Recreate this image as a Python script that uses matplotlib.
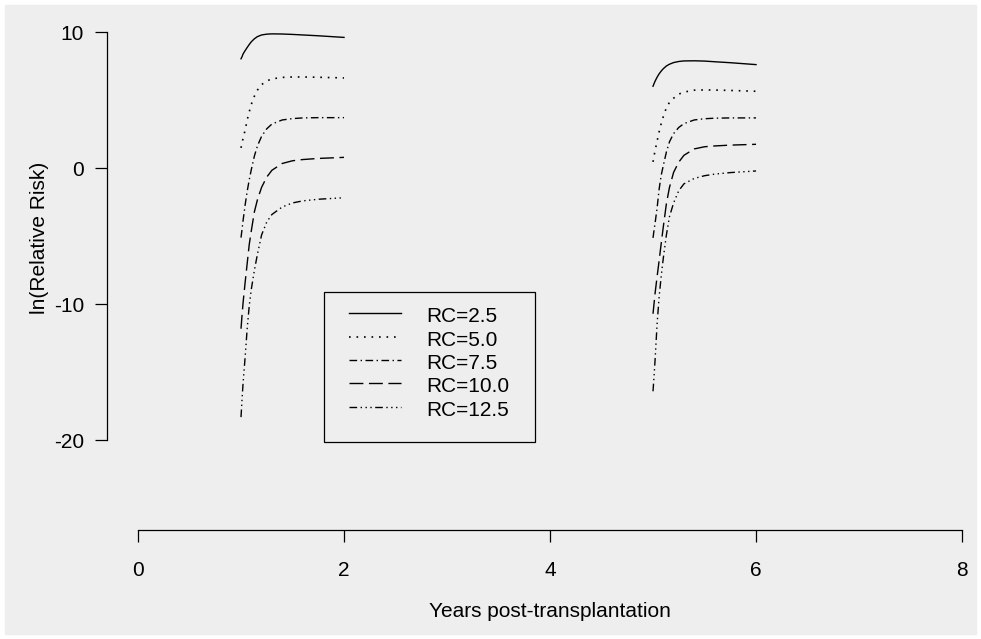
import matplotlib
matplotlib.use("Agg")
import matplotlib.pyplot as plt
from matplotlib.patches import Rectangle

plt.rcParams['font.family'] = ['Liberation Sans', 'DejaVu Sans']
plt.rcParams['font.size'] = 15
plt.rcParams['axes.unicode_minus'] = False

# time grids (years post-transplantation) for the two follow-up windows
early_years = [1.00, 1.01, 1.02, 1.04, 1.06, 1.08, 1.10, 1.13, 1.16, 1.20,
               1.25, 1.30, 1.40, 1.50, 1.60, 1.75, 2.00]
late_years = [5.00, 5.01, 5.02, 5.04, 5.06, 5.08, 5.10, 5.13, 5.16, 5.20,
              5.25, 5.30, 5.40, 5.50, 5.60, 5.75, 6.00]

# ln(relative risk) by RC level
rc25_early = [8.05, 8.2, 8.4, 8.65, 8.88, 9.1, 9.3, 9.52, 9.68, 9.8,
              9.86, 9.88, 9.87, 9.84, 9.80, 9.74, 9.62]
rc50_early = [1.5, 1.85, 2.2, 2.8, 3.55, 4.15, 4.7, 5.3, 5.75, 6.15,
              6.42, 6.57, 6.68, 6.71, 6.71, 6.69, 6.64]
rc75_early = [-5.1, -4.5, -3.85, -2.7, -1.7, -0.85, -0.1, 0.9, 1.65, 2.35,
              2.9, 3.25, 3.55, 3.65, 3.7, 3.72, 3.72]
rc100_early = [-11.8, -10.8, -9.9, -8.4, -7.0, -5.6, -4.6, -3.2, -2.3, -1.4,
               -0.65, -0.15, 0.35, 0.55, 0.64, 0.72, 0.8]
rc125_early = [-18.3, -17.0, -15.8, -13.9, -11.8, -10.1, -8.9, -7.5, -6.3, -4.9,
               -3.95, -3.4, -2.85, -2.55, -2.4, -2.28, -2.17]

rc25_late = [6.03, 6.22, 6.4, 6.7, 6.95, 7.15, 7.32, 7.52, 7.65, 7.77,
             7.85, 7.89, 7.9, 7.88, 7.83, 7.76, 7.62]
rc50_late = [0.47, 0.9, 1.3, 2.0, 2.7, 3.3, 3.8, 4.45, 4.85, 5.15,
             5.45, 5.6, 5.74, 5.76, 5.75, 5.72, 5.66]
rc75_late = [-5.12, -4.55, -4.05, -2.9, -1.5, -0.5, 0.2, 1.2, 1.95, 2.55,
             3.0, 3.28, 3.55, 3.64, 3.68, 3.7, 3.7]
rc100_late = [-10.7, -9.95, -9.2, -7.95, -6.75, -5.5, -4.3, -2.6, -1.4, -0.3,
              0.45, 0.95, 1.42, 1.58, 1.64, 1.7, 1.76]
rc125_late = [-16.4, -15.3, -14.1, -11.4, -9.4, -7.9, -6.6, -4.9, -3.55, -2.55,
              -1.65, -1.15, -0.75, -0.55, -0.43, -0.32, -0.2]

labels = ['RC=2.5', 'RC=5.0', 'RC=7.5', 'RC=10.0', 'RC=12.5']
early = [rc25_early, rc50_early, rc75_early, rc100_early, rc125_early]
late = [rc25_late, rc50_late, rc75_late, rc100_late, rc125_late]

# R-like line types: solid, dotted, dotdash, dashed, dash + three dots
styles = [
    dict(linestyle='-', lw=1.0),
    dict(dashes=(1, 3.5), lw=1.2),
    dict(dashes=(5.5, 2.5, 1, 2.5), lw=1.0),
    dict(dashes=(10, 4), lw=1.0),
    dict(dashes=(5.5, 2.5, 1, 2.5, 1, 2.5, 1, 2.5), lw=1.0),
]

fig = plt.figure(figsize=(9.81, 6.39), dpi=100)
fig.patch.set_facecolor('white')
fig.patches.append(Rectangle((5 / 981, 5 / 639), 971 / 981, 629 / 639,
                             transform=fig.transFigure, color='#eeeeee',
                             zorder=-10))

ax = fig.add_axes([107 / 981, 109 / 639, 868 / 981, 510 / 639])
ax.set_facecolor('none')

for yl, yr, st in zip(early, late, styles):
    ax.plot(early_years, yl, color='black', **st)
    ax.plot(late_years, yr, color='black', **st)

ax.set_xlim(-0.301, 8.126)
ax.set_ylim(-26.6, 10.9)

for side in ['top', 'right']:
    ax.spines[side].set_visible(False)
ax.spines['left'].set_bounds(-20, 10)
ax.spines['bottom'].set_bounds(0, 8)
ax.spines['left'].set_linewidth(0.9)
ax.spines['bottom'].set_linewidth(0.9)

ax.set_xticks([0, 2, 4, 6, 8])
ax.set_yticks([-20, -10, 0, 10])
ax.tick_params(axis='both', direction='out', length=8.5, width=0.9)
ax.tick_params(axis='x', pad=14)
ax.tick_params(axis='y', pad=8)

ax.set_xlabel('Years post-transplantation', va='center')
ax.xaxis.set_label_coords(0.510, -0.159)
ax.set_ylabel('ln(Relative Risk)', va='center')
ax.yaxis.set_label_coords(-0.078, 0.5725)

# legend box, drawn by hand to keep R's roomy layout
ax.add_patch(Rectangle((0.25, 0.1725), 0.2431, 0.2948, transform=ax.transAxes,
                       fill=False, lw=0.9, edgecolor='black'))
row_y = [0.4249, 0.3778, 0.3333, 0.2876, 0.2406]
for lab, st, y in zip(labels, styles, row_y):
    ax.plot([0.2788, 0.3384], [y, y], transform=ax.transAxes, color='black', **st)
    ax.text(0.3683, y - 0.006, lab, transform=ax.transAxes, va='center', ha='left')

fig.savefig('out.png', dpi=100, facecolor=fig.get_facecolor())
